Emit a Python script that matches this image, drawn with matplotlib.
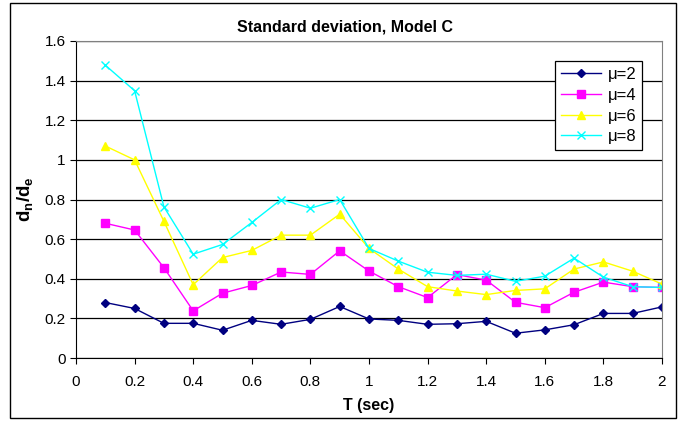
import numpy as np
import matplotlib
matplotlib.use('Agg')
import matplotlib.pyplot as plt
from matplotlib.patches import Rectangle
from matplotlib.ticker import FuncFormatter

plt.rcParams['font.family'] = ['Liberation Sans', 'DejaVu Sans']
plt.rcParams['mathtext.fontset'] = 'custom'
plt.rcParams['mathtext.rm'] = 'Liberation Sans'
plt.rcParams['mathtext.bf'] = 'Liberation Sans:bold'

T = [0.1, 0.2, 0.3, 0.4, 0.5, 0.6, 0.7, 0.8, 0.9, 1.0,
     1.1, 1.2, 1.3, 1.4, 1.5, 1.6, 1.7, 1.8, 1.9, 2.0]

mu2 = [0.28, 0.25, 0.175, 0.175, 0.14, 0.19, 0.17, 0.195, 0.26, 0.197,
       0.19, 0.17, 0.173, 0.185, 0.125, 0.142, 0.168, 0.225, 0.225, 0.258]
mu4 = [0.68, 0.646, 0.456, 0.238, 0.327, 0.366, 0.434, 0.422, 0.541, 0.439,
       0.36, 0.305, 0.421, 0.393, 0.281, 0.254, 0.332, 0.383, 0.36, 0.356]
mu6 = [1.07, 1.0, 0.69, 0.37, 0.507, 0.543, 0.62, 0.62, 0.726, 0.553,
       0.449, 0.36, 0.338, 0.32, 0.341, 0.349, 0.449, 0.485, 0.438, 0.373]
mu8 = [1.478, 1.349, 0.763, 0.524, 0.573, 0.684, 0.8, 0.756, 0.80, 0.553,
       0.489, 0.433, 0.417, 0.423, 0.387, 0.413, 0.504, 0.408, 0.36, 0.356]

labels = ['μ=2', 'μ=4', 'μ=6', 'μ=8']

fig = plt.figure(figsize=(6.85, 4.21), dpi=100)
ax = fig.add_axes([76 / 685, 1 - 358 / 421, (662 - 76) / 685, (358 - 41) / 421])

ax.plot(T, mu2, color='#000080', marker='D', markersize=4.5, lw=1, label=labels[0])
ax.plot(T, mu4, color='#FF00FF', marker='s', markersize=5.5, lw=1, label=labels[1])
ax.plot(T, mu6, color='#FFFF00', marker='^', markersize=6, lw=1, label=labels[2])
ax.plot(T, mu8, color='#00FFFF', marker='x', markersize=6, mew=1, lw=1, label=labels[3])

ax.set_xlim(0, 2)
ax.set_ylim(0, 1.6)
ax.set_xticks(np.arange(0, 2.01, 0.2))
ax.set_yticks(np.arange(0, 1.61, 0.2))
fmt = FuncFormatter(lambda v, p: f'{v:.1f}'.rstrip('0').rstrip('.') if v != 0 else '0')
ax.xaxis.set_major_formatter(fmt)
ax.yaxis.set_major_formatter(fmt)
ax.tick_params(labelsize=11, direction='out', length=4, color='black')
ax.tick_params(axis='x', pad=8)

ax.grid(axis='y', color='black', lw=0.9)
ax.set_axisbelow(True)
for s in ['top', 'right']:
    ax.spines[s].set_color('#808080')
for s in ['left', 'bottom']:
    ax.spines[s].set_color('black')

ax.set_xlabel('T (sec)', fontsize=11.5, fontweight='bold', labelpad=7)
ax.set_ylabel(r'$\mathbf{d_n/d_e}$', fontsize=13.5, labelpad=7)

fig.text(0.503, 1 - 27 / 421, 'Standard deviation, Model C',
         ha='center', va='center', fontsize=11.5, fontweight='bold')

leg = ax.legend(loc='upper left', bbox_to_anchor=((555 - 76) / 586, 1 - (61 - 41) / 317),
                fontsize=12, frameon=True, fancybox=False, borderpad=0.35,
                labelspacing=0.35, handlelength=2.4, handletextpad=0.4,
                borderaxespad=0)
leg.get_frame().set_edgecolor('black')
leg.get_frame().set_linewidth(0.9)
leg.get_frame().set_alpha(1)

fig.patches.append(Rectangle((10 / 685, 3 / 421), 666 / 685, 415 / 421,
                             transform=fig.transFigure, fill=False,
                             edgecolor='black', lw=1))

fig.savefig('out.png', dpi=100)
